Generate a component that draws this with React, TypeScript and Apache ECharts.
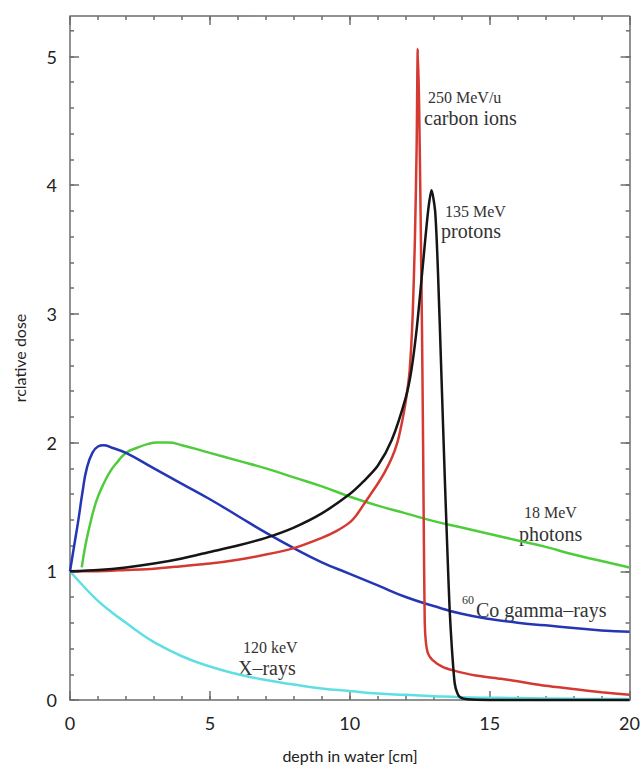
import React, { useEffect, useRef } from "react";
import * as echarts from "echarts";

const xRayX = [0, 0.5, 1, 1.5, 2, 2.5, 3, 4, 5, 6, 7, 8, 9, 10, 11, 12, 13, 14, 16, 18, 20];
const xRayY = [1.0, 0.88, 0.77, 0.68, 0.6, 0.52, 0.45, 0.34, 0.26, 0.2, 0.155, 0.12, 0.09, 0.07, 0.05, 0.04, 0.03, 0.022, 0.015, 0.01, 0.007];

const cobaltX = [0, 0.15, 0.3, 0.45, 0.6, 0.8, 1.0, 1.2, 1.5, 2, 3, 4, 5, 6, 7, 8, 9, 10, 11, 12, 13, 14, 15, 16, 17, 18, 19, 20];
const cobaltY = [1.0, 1.2, 1.4, 1.62, 1.8, 1.92, 1.97, 1.98, 1.96, 1.92, 1.8, 1.68, 1.56, 1.43, 1.3, 1.18, 1.07, 0.98, 0.89, 0.8, 0.73, 0.67, 0.63, 0.6, 0.58, 0.56, 0.54, 0.53];

const photonX = [0.42, 0.55, 0.7, 0.85, 1.0, 1.2, 1.45, 1.7, 2.0, 2.4, 2.8, 3.1, 3.5, 4, 5, 6, 7, 8, 9, 10, 11, 12, 13, 14, 15, 16, 17, 18, 19, 20];
const photonY = [1.03, 1.2, 1.35, 1.48, 1.58, 1.68, 1.78, 1.85, 1.92, 1.96, 1.99, 2.0, 2.0, 1.98, 1.92, 1.86, 1.8, 1.73, 1.66, 1.58, 1.51, 1.45, 1.39, 1.34, 1.29, 1.24, 1.19, 1.13, 1.08, 1.03];

const protonX = [0, 1, 2, 3, 4, 5, 6, 7, 8, 9, 10, 10.5, 11, 11.5, 12, 12.2, 12.4, 12.6, 12.8, 12.92, 13.05, 13.15, 13.27, 13.4, 13.5, 13.57, 13.65, 13.75, 13.85, 13.95, 14.2, 15, 20];
const protonY = [1.0, 1.01, 1.03, 1.06, 1.1, 1.15, 1.2, 1.26, 1.34, 1.45, 1.6, 1.7, 1.82, 2.02, 2.35, 2.56, 2.9, 3.35, 3.8, 3.96, 3.8, 3.34, 2.56, 1.7, 1.09, 0.7, 0.4, 0.13, 0.05, 0.02, 0.005, 0, 0];

const carbonX = [0, 1, 2, 3, 4, 5, 6, 7, 8, 9, 9.5, 10, 10.25, 10.5, 10.75, 11, 11.25, 11.5, 11.7, 11.85, 12, 12.14, 12.25, 12.33, 12.39, 12.43, 12.48, 12.53, 12.58, 12.62, 12.65, 12.68, 12.72, 12.8, 12.96, 13.3, 13.7, 14.5, 15.4, 16, 17, 18, 19, 20];
const carbonY = [1.0, 1.0, 1.01, 1.02, 1.04, 1.06, 1.09, 1.13, 1.18, 1.26, 1.31, 1.38, 1.44, 1.52, 1.6, 1.68, 1.77, 1.88, 2.0, 2.14, 2.32, 2.56, 3.0, 3.6, 4.3, 5.06, 4.6, 3.8, 2.9, 2.0, 1.2, 0.6, 0.45, 0.36, 0.31, 0.26, 0.23, 0.19, 0.165, 0.145, 0.11, 0.085, 0.06, 0.04];

const zip = (xs: number[], ys: number[]) => xs.map((x, i) => [x, ys[i]]);

const AXIS_COLOR = "#6e6e6e";
const TEXT_COLOR = "#333";
const SERIF = "'Liberation Serif', 'DejaVu Serif', serif";
const X_MAX = 20;
const Y_MAX = 5;
const TOP_EXTRA = 40.5;

function xFrame(interval: number, position: string, showLine: boolean, tickLen: number, offset: number) {
  return {
    type: "value",
    min: 0,
    max: X_MAX,
    interval: interval,
    position: position,
    offset: offset,
    axisLine: { show: showLine, onZero: false, lineStyle: { color: AXIS_COLOR, width: 1.5 } },
    axisTick: { show: true, inside: true, length: tickLen, lineStyle: { color: AXIS_COLOR, width: 1.5 } },
    splitLine: { show: false },
    axisLabel: { show: false },
  };
}

function yFrame(interval: number, position: string, showLine: boolean, tickLen: number) {
  return {
    type: "value",
    min: 0,
    max: Y_MAX,
    interval: interval,
    position: position,
    axisLine: { show: showLine, onZero: false, lineStyle: { color: AXIS_COLOR, width: 1.5 } },
    axisTick: { show: true, inside: true, length: tickLen, lineStyle: { color: AXIS_COLOR, width: 1.5 } },
    splitLine: { show: false },
    axisLabel: { show: false },
  };
}

export default function App() {
  const ref = useRef<HTMLDivElement>(null);

  useEffect(() => {
    if (!ref.current) return;
    const chart = echarts.init(ref.current, undefined, { renderer: "svg" });

    const lineSeries = (name: string, data: number[][], color: string, smooth: number) => ({
      name: name,
      type: "line",
      data: data,
      showSymbol: false,
      symbol: "none",
      smooth: smooth,
      clip: false,
      lineStyle: { color: color, width: 2.5 },
      xAxisIndex: 0,
      yAxisIndex: 0,
    });

    const dummy = (i: number) => ({
      type: "line",
      data: [],
      xAxisIndex: i,
      yAxisIndex: i,
      showSymbol: false,
    });

    const lineStyle = { stroke: AXIS_COLOR, lineWidth: 1.5 };

    chart.setOption({
      animation: false,
      grid: { left: 70, right: 13, top: 56.5, bottom: 69 },
      xAxis: [
        {
          type: "value",
          min: 0,
          max: X_MAX,
          interval: 5,
          position: "bottom",
          axisLine: { show: true, onZero: false, lineStyle: { color: AXIS_COLOR, width: 1.5 } },
          axisTick: { show: true, inside: true, length: 9, lineStyle: { color: AXIS_COLOR, width: 1.5 } },
          splitLine: { show: false },
          axisLabel: { show: true, margin: 14, fontSize: 18, fontFamily: "Lato", color: "#222" },
        },
        xFrame(1, "bottom", false, 4, 0),
        xFrame(5, "top", true, 9, TOP_EXTRA),
        xFrame(1, "top", false, 4, TOP_EXTRA),
      ],
      yAxis: [
        {
          type: "value",
          min: 0,
          max: Y_MAX,
          interval: 1,
          position: "left",
          axisLine: { show: true, onZero: false, lineStyle: { color: AXIS_COLOR, width: 1.5 } },
          axisTick: { show: true, inside: true, length: 9, lineStyle: { color: AXIS_COLOR, width: 1.5 } },
          splitLine: { show: false },
          axisLabel: { show: true, margin: 13, fontSize: 18, fontFamily: "Lato", color: "#222" },
        },
        yFrame(0.2, "left", false, 4),
        yFrame(1, "right", true, 9),
        yFrame(0.2, "right", false, 4),
      ],
      series: [
        lineSeries("120 keV X-rays", zip(xRayX, xRayY), "#5fdfe4", 0.5),
        lineSeries("18 MeV photons", zip(photonX, photonY), "#4fcc3c", 0.5),
        lineSeries("60Co gamma-rays", zip(cobaltX, cobaltY), "#2436b4", 0.5),
        lineSeries("250 MeV/u carbon ions", zip(carbonX, carbonY), "#d43a32", 0.2),
        lineSeries("135 MeV protons", zip(protonX, protonY), "#151515", 0.25),
        dummy(1),
        dummy(2),
        dummy(3),
      ],
      graphic: [
        { type: "line", shape: { x1: 70, y1: 16, x2: 70, y2: 57 }, style: lineStyle, silent: true },
        { type: "line", shape: { x1: 630, y1: 16, x2: 630, y2: 57 }, style: lineStyle, silent: true },
        { type: "line", shape: { x1: 70, y1: 30.8, x2: 74, y2: 30.8 }, style: lineStyle, silent: true },
        { type: "line", shape: { x1: 626, y1: 30.8, x2: 630, y2: 30.8 }, style: lineStyle, silent: true },
        { type: "text", x: 350, y: 755, style: { text: "depth in water [cm]", font: "16px Lato", fill: "#222", align: "center", verticalAlign: "middle" } },
        { type: "text", x: 19, y: 358, rotation: Math.PI / 2, style: { text: "rclative dose", font: "16px Lato", fill: "#222", align: "center", verticalAlign: "middle" } },
        { type: "text", x: 428, y: 97, style: { text: "250 MeV/u", font: `16px ${SERIF}`, fill: TEXT_COLOR, verticalAlign: "middle" } },
        { type: "text", x: 424, y: 118, style: { text: "carbon ions", font: `20px ${SERIF}`, fill: TEXT_COLOR, verticalAlign: "middle" } },
        { type: "text", x: 445, y: 211, style: { text: "135 MeV", font: `16px ${SERIF}`, fill: TEXT_COLOR, verticalAlign: "middle" } },
        { type: "text", x: 441, y: 231, style: { text: "protons", font: `20px ${SERIF}`, fill: TEXT_COLOR, verticalAlign: "middle" } },
        { type: "text", x: 524, y: 512, style: { text: "18 MeV", font: `16px ${SERIF}`, fill: TEXT_COLOR, verticalAlign: "middle" } },
        { type: "text", x: 519, y: 534, style: { text: "photons", font: `20px ${SERIF}`, fill: TEXT_COLOR, verticalAlign: "middle" } },
        { type: "text", x: 462, y: 600, style: { text: "60", font: `12px ${SERIF}`, fill: TEXT_COLOR, verticalAlign: "middle" } },
        { type: "text", x: 476, y: 610, style: { text: "Co gamma–rays", font: `20px ${SERIF}`, fill: TEXT_COLOR, verticalAlign: "middle" } },
        { type: "text", x: 243, y: 647, style: { text: "120 keV", font: `16px ${SERIF}`, fill: TEXT_COLOR, verticalAlign: "middle" } },
        { type: "text", x: 238, y: 668, style: { text: "X–rays", font: `20px ${SERIF}`, fill: TEXT_COLOR, verticalAlign: "middle" } },
      ],
    });

    return () => chart.dispose();
  }, []);

  return (
    <div
      ref={ref}
      style={{ position: "fixed", left: 0, top: 0, width: 643, height: 769, background: "#fff" }}
    />
  );
}
